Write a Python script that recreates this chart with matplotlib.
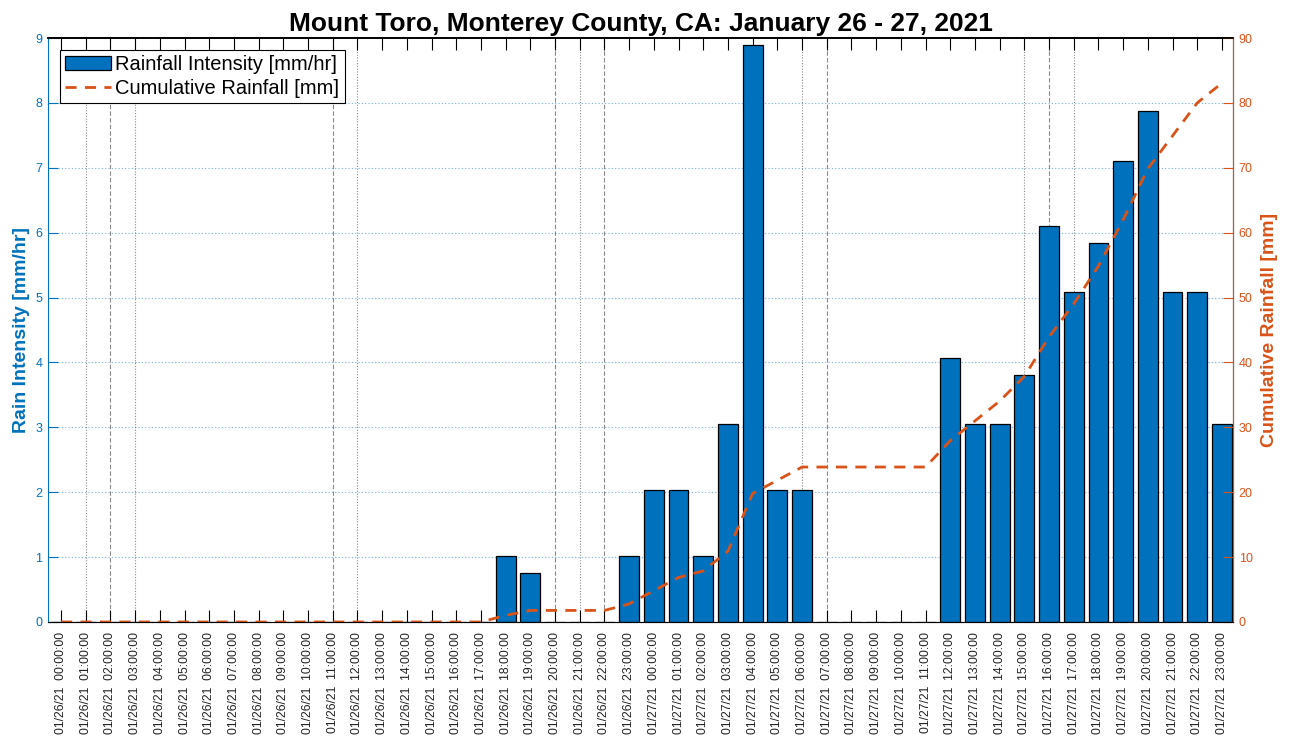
import matplotlib.pyplot as plt

plt.rcParams['font.family'] = ['Liberation Sans', 'DejaVu Sans']

# hourly labels, 01/26/21 00:00 .. 01/27/21 23:00
hour_labels = ['01/26/21  %02d:00:00' % h for h in range(24)] + \
              ['01/27/21  %02d:00:00' % h for h in range(24)]

# rainfall intensity [mm/hr], one value per hour
intensity = [0, 0, 0, 0, 0, 0, 0, 0, 0, 0, 0, 0, 0, 0, 0, 0, 0, 0,
             1.016, 0.762, 0, 0, 0, 1.016,
             2.032, 2.032, 1.016, 3.048, 8.89, 2.032, 2.032,
             0, 0, 0, 0, 0,
             4.064, 3.048, 3.048, 3.81, 6.096, 5.08, 5.842, 7.112, 7.874,
             5.08, 5.08, 3.048]

# cumulative rainfall [mm]
cumulative = [0, 0, 0, 0, 0, 0, 0, 0, 0, 0, 0, 0, 0, 0, 0, 0, 0, 0,
              1.02, 1.78, 1.78, 1.78, 1.78, 2.79,
              4.83, 6.86, 7.87, 10.92, 19.81, 21.84, 23.88,
              23.88, 23.88, 23.88, 23.88, 23.88,
              27.94, 30.99, 34.04, 37.85, 43.94, 49.02, 54.86, 61.98, 69.85,
              74.93, 80.01, 83.06]

# hours with gray vertical marker lines
marker_hours = [1, 2, 3, 11, 12, 20, 21, 22, 30, 31, 39, 40, 41]

blue = '#0072BD'
orange = '#D95319'
x = list(range(len(hour_labels)))

fig = plt.figure(figsize=(12.94, 7.40), dpi=100)
ax = fig.add_axes([0.0371, 0.1595, 0.9158, 0.7891])

for i, h in enumerate(marker_hours):
    ax.axvline(h, color='#8a8a8a', lw=0.8, ls=(0, (1, 1.5)) if i % 2 == 0 else (0, (4, 2)), zorder=0)

ax.bar(x, intensity, width=0.8, color=blue, edgecolor='black', linewidth=0.9,
       label='Rainfall Intensity [mm/hr]', zorder=2)

ax.set_xlim(-0.53, 47.45)
ax.set_ylim(0, 9)
ax.set_yticks(range(10))
for yv in range(1, 9):
    ax.axhline(yv, color=blue, alpha=0.55, lw=0.8, ls=(0, (1, 2)), zorder=0)

ax.set_xticks(x)
ax.set_xticklabels(hour_labels, rotation=90, fontsize=8.8, color='#222222')
ax.tick_params(axis='x', direction='in', length=8.5, top=True, width=0.8, pad=7)
ax.tick_params(axis='y', direction='in', length=7, colors=blue, labelsize=9, pad=4)
ax.set_ylabel('Rain Intensity [mm/hr]', color=blue, fontsize=14, fontweight='bold', labelpad=4)
ax.spines['left'].set_color(blue)
ax.spines['bottom'].set_color('#555555')
ax.spines['top'].set_linewidth(1.2)
for t in ax.get_xticklines():
    t.set_zorder(5)

ax2 = ax.twinx()
ax2.plot(x, cumulative, color=orange, ls=(0, (4, 3)), lw=2, label='Cumulative Rainfall [mm]')
ax2.set_ylim(0, 90)
ax2.set_yticks(range(0, 91, 10))
ax2.tick_params(axis='y', direction='in', length=7, colors=orange, labelsize=9, pad=4)
ax2.set_ylabel('Cumulative Rainfall [mm]', color=orange, fontsize=14, fontweight='bold', labelpad=6)
ax2.spines['right'].set_color(orange)
ax2.spines['left'].set_visible(False)
ax2.spines['top'].set_linewidth(1.2)

h1, l1 = ax.get_legend_handles_labels()
h2, l2 = ax2.get_legend_handles_labels()
leg = ax2.legend(h1 + h2, l1 + l2, loc='upper left', fontsize=14.5, fancybox=False,
                 framealpha=1, edgecolor='black', borderpad=0.25, handlelength=2.3,
                 handletextpad=0.2, labelspacing=0.25, borderaxespad=0.6)
leg.get_frame().set_linewidth(0.8)

ax.set_title('Mount Toro, Monterey County, CA: January 26 - 27, 2021',
             fontsize=19, fontweight='bold', pad=5)

fig.savefig('out.png', dpi=100)
